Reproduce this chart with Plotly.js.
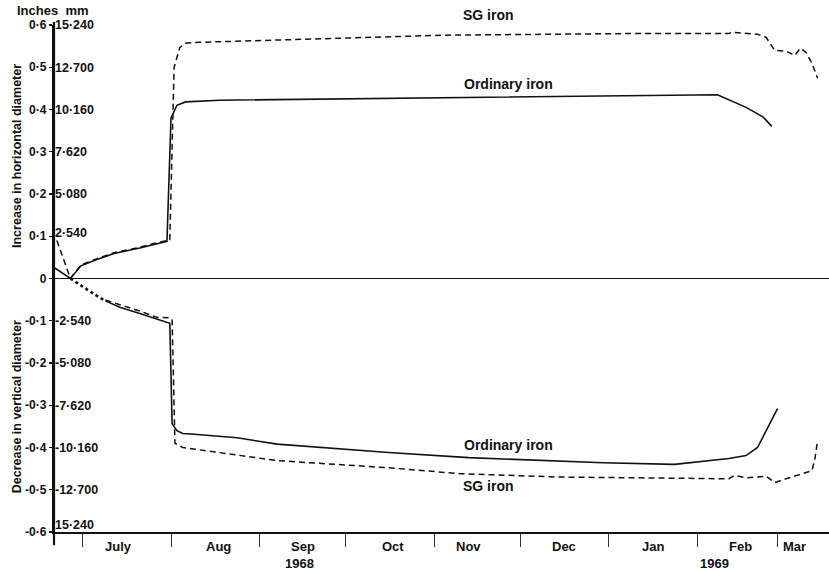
<!DOCTYPE html>
<html>
<head>
<meta charset="utf-8">
<script src="https://cdn.plot.ly/plotly-3.0.1.min.js"></script>
<style>html,body{margin:0;padding:0;background:#fff;}#chart{width:829px;height:571px;}</style>
</head>
<body>
<div id="chart"></div>
<script>
// ---- data ----
const monthStarts = ['1968-07-01','1968-08-01','1968-09-01','1968-10-01','1968-11-01','1968-12-01','1969-01-01','1969-02-01','1969-03-01'];
const monthLabels = ['July','Aug','Sep','Oct','Nov','Dec','Jan','Feb','Mar'];
const yearLabels = ['1968','1969'];

const inchVals = [0.6,0.5,0.4,0.3,0.2,0.1,0,-0.1,-0.2,-0.3,-0.4,-0.5,-0.6];
const inchText = ['0·6','0·5','0·4','0·3','0·2','0·1','0','-0·1','-0·2','-0·3','-0·4','-0·5','-0·6'];
const mmVals = [0.6,0.5,0.4,0.3,0.2,0.1,-0.1,-0.2,-0.3,-0.4,-0.5,-0.6];
const mmText = ['15·240','12·700','10·160','7·620','5·080','2·540','-2·540','-5·080','-7·620','-10·160','-12·700','15·240'];

// Increase in horizontal diameter
const ordUpDates = ['1968-06-21','1968-06-26 18:00','1968-06-30 10:00','1968-07-06','1968-07-12','1968-07-21','1968-07-30 12:00','1968-07-31 22:00','1968-08-03','1968-08-06','1968-08-18','1968-10-13','1968-12-01','1969-01-13','1969-02-08','1969-02-18','1969-02-24','1969-02-27'];
const ordUpVals = [0.026,0,0.03,0.045,0.059,0.072,0.088,0.38,0.41,0.418,0.422,0.426,0.43,0.434,0.435,0.405,0.382,0.36];

const sgUpDates = ['1968-06-22','1968-06-26 18:00','1968-06-30 10:00','1968-07-06','1968-07-12','1968-07-21','1968-07-31 12:00','1968-08-02','1968-08-04','1968-08-06','1968-08-11','1968-10-01','1968-11-05','1969-01-13','1969-02-12','1969-02-13','1969-02-22','1969-02-25','1969-02-28','1969-03-04','1969-03-07','1969-03-09','1969-03-11','1969-03-13','1969-03-15'];
const sgUpVals = [0.09,0,0.032,0.047,0.061,0.074,0.092,0.50,0.547,0.557,0.559,0.569,0.576,0.58,0.58,0.583,0.578,0.571,0.54,0.538,0.528,0.545,0.535,0.51,0.474];

// Decrease in vertical diameter
const commonLowDates = ['1968-06-26 18:00','1968-07-01','1968-07-05','1968-07-09'];
const commonLowVals = [0,-0.02,-0.037,-0.053];

const ordLowDates = ['1968-07-09','1968-07-14','1968-07-21','1968-07-30','1968-07-31 12:00','1968-08-01 07:00','1968-08-03','1968-08-05','1968-08-08','1968-08-24','1968-09-07','1968-10-16','1968-11-13','1968-12-30','1969-01-24','1969-02-12','1969-02-18','1969-02-22','1969-03-01'];
const ordLowVals = [-0.053,-0.068,-0.083,-0.104,-0.106,-0.344,-0.36,-0.367,-0.368,-0.377,-0.392,-0.412,-0.424,-0.436,-0.44,-0.426,-0.419,-0.40,-0.308];

const sgLowDates = ['1968-07-09','1968-07-21','1968-07-27','1968-07-31','1968-08-01 07:00','1968-08-02 07:00','1968-08-05','1968-09-07','1968-10-16','1968-11-10','1968-12-15','1969-01-11','1969-02-12','1969-02-14','1969-02-18','1969-02-25','1969-02-28','1969-03-04','1969-03-13','1969-03-14','1969-03-15'];
const sgLowVals = [-0.051,-0.077,-0.092,-0.093,-0.096,-0.39,-0.40,-0.431,-0.448,-0.462,-0.470,-0.472,-0.474,-0.466,-0.472,-0.468,-0.483,-0.474,-0.455,-0.43,-0.384];

const seriesNames = ['SG iron','Ordinary iron'];

// ---- drawing ----
const xRange = ['1968-06-21','1969-03-19'];
const FONT = 'Liberation Sans, Arial, sans-serif';
const ink = '#111';
const f = (size) => ({family: FONT, size: size, color: ink, weight: 'bold'});

function midDate(a, b){
  const ta = new Date(a+'T00:00:00Z').getTime();
  const tb = new Date(b+'T00:00:00Z').getTime();
  return new Date((ta+tb)/2);
}

const solid = {color: ink, width: 1.6};
const dashed = {color: ink, width: 1.5, dash: '6px,4px'};
const traces = [
  {x: ordUpDates, y: ordUpVals, mode:'lines', line: solid},
  {x: sgUpDates, y: sgUpVals, mode:'lines', line: dashed},
  {x: commonLowDates, y: commonLowVals, mode:'lines', line: {color: ink, width: 2.6, dash: 'dot'}},
  {x: ordLowDates, y: ordLowVals, mode:'lines', line: solid},
  {x: sgLowDates, y: sgLowVals, mode:'lines', line: dashed},
  {x: [xRange[0]], y: [0], yaxis: 'y2', mode: 'markers', marker: {opacity: 0}}
];

const annotations = [];
function ann(o){ annotations.push(Object.assign({showarrow: false, xanchor: 'center', yanchor: 'middle'}, o)); }

const endDates = monthStarts.slice(1).concat([xRange[1]]);
const labelNudgeDays = [-3,1,0,1,-3,0,0,1,-3];
monthLabels.forEach((m, i) => {
  const mid = midDate(monthStarts[i], endDates[i]);
  mid.setUTCDate(mid.getUTCDate() + labelNudgeDays[i]);
  ann({x: mid.toISOString().slice(0,16).replace('T',' '), y: 0, xref: 'x', yref: 'paper', yshift: -14, text: m, font: f(13)});
});
// year labels under Sep 1968 and Jan/Feb 1969
ann({x: '1968-09-15', y: 0, xref: 'x', yref: 'paper', yshift: -31, text: yearLabels[0], font: f(13)});
ann({x: '1969-02-07', y: 0, xref: 'x', yref: 'paper', yshift: -31, text: yearLabels[1], font: f(13)});

// curve labels
ann({x: '1968-11-20', y: 0.6, xref: 'x', yref: 'y', yshift: 10, text: seriesNames[0], font: f(14)});
ann({x: '1968-11-27', y: 0.46, xref: 'x', yref: 'y', text: seriesNames[1], font: f(14)});
ann({x: '1968-11-27', y: -0.395, xref: 'x', yref: 'y', text: seriesNames[1], font: f(14)});
ann({x: '1968-11-20', y: -0.49, xref: 'x', yref: 'y', text: seriesNames[0], font: f(14)});

// header and axis titles
ann({x: 0, y: 1, xref: 'paper', yref: 'paper', xshift: -1, yshift: 15, text: 'Inches  mm', font: f(13)});
ann({x: 0, y: 0.6, xref: 'paper', yref: 'y', xshift: -37, yshift: -131, text: 'Increase in horizontal diameter', textangle: -90, font: f(12.5)});
ann({x: 0, y: -0.3, xref: 'paper', yref: 'y', xshift: -37, yshift: -2, text: 'Decrease in vertical diameter', textangle: -90, font: f(12.5)});

const mmPos = mmVals.map(v => v === -0.6 ? -0.583 : (v === 0.1 ? 0.108 : v));

const layout = {
  width: 829, height: 571,
  margin: {l: 54, r: 0, t: 25, b: 39},
  paper_bgcolor: '#fff', plot_bgcolor: '#fff',
  showlegend: false,
  xaxis: {
    type: 'date', range: xRange,
    tickvals: monthStarts, showticklabels: false,
    ticks: 'outside', ticklen: 13, tickwidth: 1, tickcolor: '#333',
    showgrid: false, zeroline: false,
    showline: true, linecolor: ink, linewidth: 2.2
  },
  yaxis: {
    range: [-0.6, 0.6],
    tickvals: inchVals, ticktext: inchText,
    ticks: 'outside', ticklen: 3, tickwidth: 1.2, tickcolor: ink,
    tickfont: f(12), ticklabelstandoff: 0,
    showgrid: false, zeroline: true, zerolinecolor: ink, zerolinewidth: 1.6,
    showline: true, linecolor: ink, linewidth: 2.2
  },
  yaxis2: {
    range: [-0.6, 0.6], overlaying: 'y', anchor: 'free', position: 0, side: 'right',
    tickvals: mmPos, ticktext: mmText, ticks: '',
    tickfont: f(12.5),
    showgrid: false, zeroline: false, showline: false
  },
  shapes: [
    {type: 'line', xref: 'paper', yref: 'paper', x0: 0, x1: 0, y0: -0.026, y1: 1.006, line: {color: ink, width: 2.2}}
  ],
  annotations: annotations,
  hovermode: false
};

Plotly.newPlot('chart', traces, layout, {staticPlot: true, displayModeBar: false});
</script>
</body>
</html>
